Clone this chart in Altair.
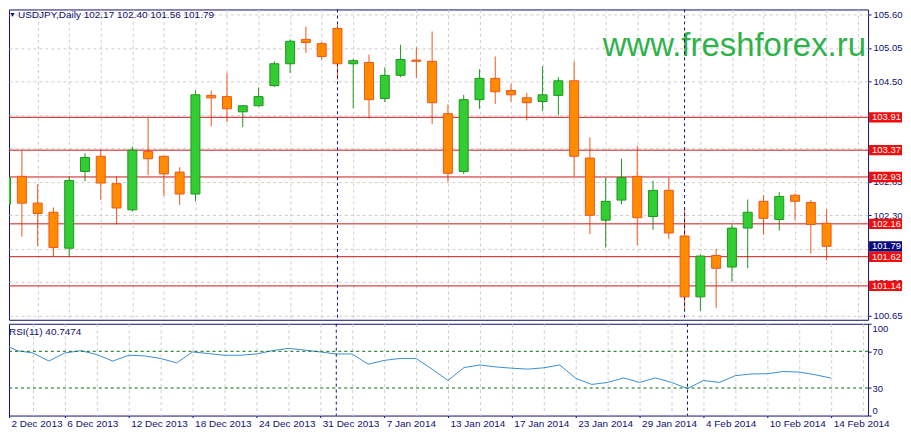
import json
import altair as alt
import pandas as pd

# ---------------- data ----------------
opens = [102.48, 102.94, 102.50, 102.35, 101.76, 103.02, 103.27, 102.82, 102.39, 103.35,
         103.27, 103.01, 102.65, 104.27, 104.25, 104.00, 104.10, 104.43, 104.79, 105.19,
         105.12, 105.37, 104.79, 104.81, 104.22, 104.60, 104.85, 104.83, 103.97, 103.02,
         104.20, 104.55, 104.35, 104.23, 104.17, 104.27, 104.51, 103.24, 102.22, 102.55,
         102.94, 102.28, 102.71, 101.96, 100.96, 101.64, 101.45, 102.09, 102.53, 102.23,
         102.63, 102.51, 102.17]
highs = [103.13, 103.37, 102.81, 102.43, 102.94, 103.32, 103.38, 102.94, 103.43, 103.90,
         103.27, 103.09, 104.35, 104.35, 104.64, 104.11, 104.40, 104.83, 105.19, 105.40,
         105.15, 105.43, 104.87, 104.94, 104.73, 105.10, 105.06, 105.32, 104.12, 104.28,
         104.70, 104.91, 104.46, 104.31, 104.75, 104.57, 104.83, 103.58, 102.92, 103.23,
         103.44, 102.87, 102.92, 102.40, 101.66, 101.75, 102.15, 102.56, 102.63, 102.68,
         102.66, 102.55, 102.40]
lows = [102.21, 101.95, 101.80, 101.62, 101.62, 102.86, 102.55, 102.15, 102.36, 102.96,
        102.62, 102.47, 102.53, 103.76, 103.83, 103.75, 104.09, 104.41, 104.64, 104.97,
        104.86, 104.53, 104.06, 103.89, 104.16, 104.57, 104.56, 103.80, 102.85, 102.98,
        104.05, 104.13, 104.17, 103.86, 104.01, 103.94, 102.94, 101.99, 101.77, 102.48,
        101.81, 102.06, 101.92, 100.76, 100.73, 100.78, 101.21, 101.43, 101.98, 102.05,
        102.22, 101.67, 101.56]
closes = [102.92, 102.50, 102.33, 101.77, 102.87, 103.25, 102.83, 102.42, 103.37, 103.23,
          102.98, 102.65, 104.28, 104.23, 104.05, 104.10, 104.25, 104.79, 105.16, 105.14,
          104.91, 104.79, 104.84, 104.20, 104.60, 104.86, 104.83, 104.15, 102.99, 104.20,
          104.55, 104.33, 104.28, 104.15, 104.28, 104.51, 103.27, 102.30, 102.53, 102.92,
          102.26, 102.71, 102.01, 100.96, 101.63, 101.43, 102.09, 102.35, 102.25, 102.61,
          102.53, 102.15, 101.79]
rsi_values = [78.8, 70.7, 68.2, 59.4, 68.2, 70.7, 66.5, 59.4, 65.7, 65.0,
              62.2, 57.3, 69.3, 67.5, 65.7, 65.7, 67.1, 70.7, 73.2, 71.4,
              69.3, 67.1, 67.1, 55.9, 60.1, 62.2, 62.2, 50.6, 38.2, 52.3,
              55.1, 53.0, 51.6, 50.6, 52.0, 55.1, 40.6, 33.9, 36.1, 41.0,
              36.1, 41.0, 36.1, 29.4, 38.2, 36.1, 43.5, 45.3, 45.6, 48.0,
              47.4, 44.5, 40.75]
tick_positions = [0, 4, 8, 12, 16, 20, 24, 28, 32, 36, 40, 44, 48, 52]
tick_labels = ["2 Dec 2013", "6 Dec 2013", "12 Dec 2013", "18 Dec 2013", "24 Dec 2013",
               "31 Dec 2013", "7 Jan 2014", "13 Jan 2014", "17 Jan 2014", "23 Jan 2014",
               "29 Jan 2014", "4 Feb 2014", "10 Feb 2014", "14 Feb 2014"]
level_prices = [103.91, 103.37, 102.93, 102.16, 101.62, 101.14]
last_close = 101.79
separator_positions = [21, 43]
price_ticks = [105.60, 105.05, 104.50, 103.95, 103.40, 102.85, 102.30, 101.75, 101.20, 100.65]
rsi_levels = [70, 30]
rsi_ticks = [0, 30, 70, 100]
symbol_text = "USDJPY,Daily  102.17 102.40 101.56 101.79"
rsi_text = "RSI(11) 40.7474"
watermark_text = "www.freshforex.ru"

# ---------------- layout / style ----------------
FONT = "Liberation Sans"
W = 861
H_MAIN = 311
H_RSI = 92
PX_PER_BAR = 16
X0 = 0.5
X1 = X0 + W / PX_PER_BAR
PX_PER_UNIT = 61.0
Y_TOP = 105.60 + 5 / PX_PER_UNIT
Y_BOT = 105.60 - 306 / PX_PER_UNIT
BOX_HALF = 5.2 / PX_PER_UNIT

GREEN_FILL = "#32cd32"
GREEN_LINE = "#1f961f"
ORANGE_FILL = "#ff8c00"
ORANGE_LINE = "#f0561a"
RED_LINE = "#cc1818"
RED_BOX = "#f20c0c"
NAVY = "#10106e"
NAVY_BOX = "#0a0a7a"
GRID = "#cdcdcd"
RSI_BLUE = "#3b8fd2"
LEVEL_GREEN = "#0b6b0b"
WM_GREEN = "#30b24a"

df = pd.DataFrame({
    "i": list(range(len(opens))),
    "open": opens, "high": highs, "low": lows, "close": closes,
    "rsi": rsi_values,
})
up = "datum.close >= datum.open"

xs = alt.Scale(domain=[X0, X1], nice=False, zero=False)
ys = alt.Scale(domain=[Y_BOT, Y_TOP], nice=False, zero=False)
rs = alt.Scale(domain=[0, 100], nice=False, zero=False)

grid_vals = list(range(2, int(X1) + 1, 2))

box_prices = level_prices + [last_close]
hidden_ticks = [v for v in price_ticks if min(abs(v - p) for p in box_prices) < 0.05]

# one axis object per channel, shared by every layer so the merge is clean
x_main_axis = alt.Axis(
    values=grid_vals, labels=False, ticks=False, domain=False, grid=True,
    gridDash=[3, 3], gridColor=GRID, title=None)
y_main_axis = alt.Axis(
    orient="right", values=price_ticks, grid=True, gridDash=[3, 3],
    labelExpr=f"indexof({json.dumps(hidden_ticks)}, datum.value) >= 0 ? '' : format(datum.value, '.2f')",
    gridColor=GRID, domain=False, tickSize=3, tickColor=NAVY, labelColor=NAVY,
    labelFont=FONT, labelFontSize=9.5, labelPadding=2, labelOverlap=False,
    labelFlush=False, title=None)

base = alt.Chart(df)

watermark = alt.Chart(pd.DataFrame({"t": [watermark_text]})).mark_text(
    align="left", baseline="alphabetic", font=FONT, fontSize=33, color=WM_GREEN
).encode(text="t:N", x=alt.value(595), y=alt.value(47))

hlines = alt.Chart(pd.DataFrame({"price": level_prices})).mark_rule(
    color=RED_LINE, strokeWidth=1
).encode(y=alt.Y("price:Q", scale=ys, axis=y_main_axis))

seps_main = alt.Chart(pd.DataFrame({"i": separator_positions})).mark_rule(
    color=NAVY, strokeDash=[3, 3], strokeWidth=1
).encode(x=alt.X("i:Q", scale=xs, axis=x_main_axis))

wicks = base.mark_rule(strokeWidth=1, clip=True).encode(
    x=alt.X("i:Q", scale=xs, axis=x_main_axis),
    y=alt.Y("low:Q", scale=ys, axis=y_main_axis),
    y2="high:Q",
    color=alt.condition(up, alt.value(GREEN_LINE), alt.value(ORANGE_LINE)),
)
bodies = base.mark_bar(width=9, strokeWidth=1, clip=True, orient="vertical").encode(
    x=alt.X("i:Q", scale=xs, axis=x_main_axis),
    y=alt.Y("open:Q", scale=ys, axis=y_main_axis),
    y2="close:Q",
    fill=alt.condition(up, alt.value(GREEN_FILL), alt.value(ORANGE_FILL)),
    stroke=alt.condition(up, alt.value(GREEN_LINE), alt.value(ORANGE_LINE)),
)

box_df = pd.DataFrame({
    "price": box_prices,
    "bg": [RED_BOX] * len(level_prices) + [NAVY_BOX],
})
box_df["top"] = box_df["price"] + BOX_HALF
box_df["bot"] = box_df["price"] - BOX_HALF
box_df["label"] = box_df["price"].map(lambda v: f"{v:.2f}")

boxes = alt.Chart(box_df).mark_rect().encode(
    x=alt.value(W + 1), x2=alt.value(W + 34),
    y=alt.Y("top:Q", scale=ys, axis=y_main_axis), y2="bot:Q",
    color=alt.Color("bg:N", scale=None),
)
box_text = alt.Chart(box_df).mark_text(
    align="left", baseline="middle", font=FONT, fontSize=9.5, color="white"
).encode(x=alt.value(W + 4), y=alt.Y("price:Q", scale=ys, axis=y_main_axis), text="label:N")

title_main = alt.Chart(pd.DataFrame({"t": ["\u25bc"]})).mark_text(
    align="left", baseline="middle", font=FONT, fontSize=7, color=NAVY
).encode(text="t:N", x=alt.value(0), y=alt.value(6))
title_main2 = alt.Chart(pd.DataFrame({"t": [symbol_text]})).mark_text(
    align="left", baseline="middle", font=FONT, fontSize=10, color=NAVY
).encode(text="t:N", x=alt.value(9), y=alt.value(6))

main = alt.layer(
    wicks, watermark, hlines, seps_main, bodies, boxes, box_text, title_main, title_main2
).properties(width=W, height=H_MAIN)

# ---------------- RSI panel ----------------
label_pos = [max(p, X0) for p in tick_positions]
pos_js = json.dumps(label_pos)
lab_js = json.dumps(tick_labels)
rsi_x_vals = sorted(set(label_pos + grid_vals))
x_rsi_axis = alt.Axis(
    values=rsi_x_vals,
    labelExpr=f"indexof({pos_js}, datum.value) >= 0 ? {lab_js}[indexof({pos_js}, datum.value)] : ''",
    labelAlign="left", labelFlush=False, labelOverlap=False, labelOffset=2,
    labelFont=FONT, labelFontSize=10, labelColor=NAVY, labelPadding=1,
    tickSize=2, tickColor=NAVY,
    tickOpacity={"condition": {"test": f"indexof({pos_js}, datum.value) >= 0", "value": 1}, "value": 0},
    grid=True, gridDash=[3, 3], gridColor=GRID,
    gridOpacity={"condition": {"test": "datum.value < 1", "value": 0}, "value": 1},
    domain=False, title=None)
y_rsi_axis = alt.Axis(
    orient="right", values=rsi_ticks, grid=False, domain=False, tickSize=3,
    tickColor=NAVY, labelColor=NAVY, labelFont=FONT, labelFontSize=9.5,
    labelPadding=1, labelFlush=True, labelOverlap=False, title=None)

rsi_line = base.mark_line(color=RSI_BLUE, strokeWidth=1, clip=True).encode(
    x=alt.X("i:Q", scale=xs, axis=x_rsi_axis),
    y=alt.Y("rsi:Q", scale=rs, axis=y_rsi_axis),
)
rsi_lv = alt.Chart(pd.DataFrame({"v": rsi_levels})).mark_rule(
    color=LEVEL_GREEN, strokeDash=[3, 3], strokeWidth=1
).encode(y=alt.Y("v:Q", scale=rs, axis=y_rsi_axis))
seps_rsi = alt.Chart(pd.DataFrame({"i": separator_positions})).mark_rule(
    color=NAVY, strokeDash=[3, 3], strokeWidth=1
).encode(x=alt.X("i:Q", scale=xs, axis=x_rsi_axis))
rsi_title = alt.Chart(pd.DataFrame({"t": [rsi_text]})).mark_text(
    align="left", baseline="middle", font=FONT, fontSize=10, color=NAVY
).encode(text="t:N", x=alt.value(0), y=alt.value(8))

rsi_panel = alt.layer(rsi_line, rsi_lv, seps_rsi, rsi_title).properties(width=W, height=H_RSI)

chart = alt.vconcat(main, rsi_panel, spacing=2).properties(
    padding=0, background="white"
).configure_view(stroke=NAVY, strokeWidth=1)

chart.save("out.html", embed_options={"renderer": "svg", "actions": False})
